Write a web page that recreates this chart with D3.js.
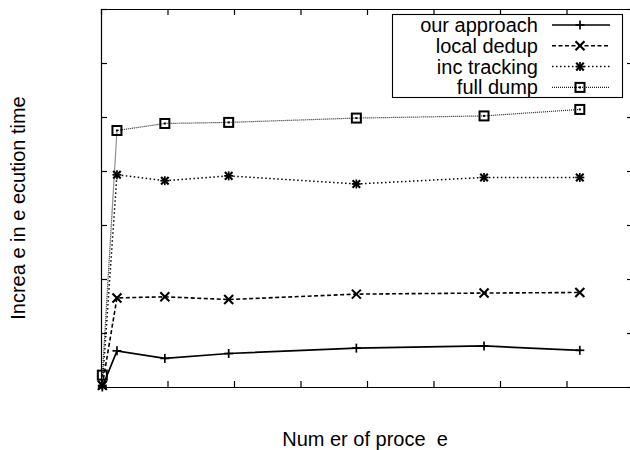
<!DOCTYPE html>
<html><head><meta charset="utf-8">
<script src="https://cdn.jsdelivr.net/npm/d3@7"></script>
<style>
body{margin:0;background:#fff;}
svg{display:block;font-family:"Liberation Sans",Arial,sans-serif;}
text{white-space:pre;}
</style></head><body>
<svg id="chart" width="630" height="450"></svg>
<script>
const processes = [1, 12, 48, 96, 192, 288, 360];
const ourApproach = [0, 6.7, 5.3, 6.2, 7.2, 7.6, 6.8];
const localDedup = [0.3, 16.5, 16.7, 16.2, 17.2, 17.4, 17.5];
const incTracking = [0.3, 39.3, 38.2, 39.1, 37.6, 38.8, 38.8];
const fullDump = [2.2, 47.5, 48.8, 49.0, 49.8, 50.2, 51.4];
const seriesNames = ["our approach", "local dedup", "inc tracking", "full dump"];
const xTicks = [0, 50, 100, 150, 200, 250, 300, 350, 400];
const yTicks = [0, 10, 20, 30, 40, 50, 60, 70];
const xLabel = "Num er of proce  e";
const yLabel = "Increa e in e ecution time";

const svg = d3.select("#chart");
const L = 101, R = 633, T = 9, B = 387;
const x = d3.scaleLinear().domain([0, 400]).range([L, R]);
const y = d3.scaleLinear().domain([0, 70]).range([B, T]);

const styles = [
  {values: ourApproach, dash: null, width: 1.7, color: "#000", marker: "plus"},
  {values: localDedup, dash: "4,2.5", width: 1.6, color: "#000", marker: "cross"},
  {values: incTracking, dash: "1.5,2.5", width: 1.5, color: "#000", marker: "star"},
  {values: fullDump, dash: "1,1", width: 1.2, color: "#222", marker: "square"}
];

function styleAxis(g){
  g.selectAll("path.domain").attr("stroke","#000").attr("stroke-width",1.2);
  g.selectAll(".tick line").attr("stroke","#000").attr("stroke-width",1.2);
  g.selectAll(".tick text").remove();
}
svg.append("g").attr("transform",`translate(0,${B})`)
  .call(d3.axisBottom(x).tickValues(xTicks).tickSizeInner(-6).tickSizeOuter(0).tickFormat(()=>"")).call(styleAxis);
svg.append("g").attr("transform",`translate(0,${T})`)
  .call(d3.axisTop(x).tickValues(xTicks).tickSizeInner(-6).tickSizeOuter(0).tickFormat(()=>"")).call(styleAxis);
svg.append("g").attr("transform",`translate(${L},0)`)
  .call(d3.axisLeft(y).tickValues(yTicks).tickSizeInner(-6).tickSizeOuter(0).tickFormat(()=>"")).call(styleAxis);
svg.append("g").attr("transform",`translate(${R},0)`)
  .call(d3.axisRight(y).tickValues(yTicks).tickSizeInner(-6).tickSizeOuter(0).tickFormat(()=>"")).call(styleAxis);

function drawMarker(g, type, cx, cy){
  const s = 4.5;
  if (type === "plus" || type === "star") {
    g.append("line").attr("x1",cx-s).attr("x2",cx+s).attr("y1",cy).attr("y2",cy).attr("stroke","#000").attr("stroke-width",1.7);
    g.append("line").attr("x1",cx).attr("x2",cx).attr("y1",cy-s).attr("y2",cy+s).attr("stroke","#000").attr("stroke-width",1.7);
  }
  if (type === "cross" || type === "star") {
    const t = type === "star" ? 3.8 : 4.5;
    g.append("line").attr("x1",cx-t).attr("x2",cx+t).attr("y1",cy-t).attr("y2",cy+t).attr("stroke","#000").attr("stroke-width",2.1);
    g.append("line").attr("x1",cx-t).attr("x2",cx+t).attr("y1",cy+t).attr("y2",cy-t).attr("stroke","#000").attr("stroke-width",2.1);
  }
  if (type === "square") {
    g.append("rect").attr("x",cx-4.5).attr("y",cy-4.5).attr("width",9).attr("height",9)
      .attr("fill","none").attr("stroke","#000").attr("stroke-width",2);
    g.append("rect").attr("x",cx-1).attr("y",cy-1).attr("width",2).attr("height",2).attr("fill","#000");
  }
}

const line = d3.line().x(d => x(d[0])).y(d => y(d[1]));
styles.forEach(st => {
  const pts = processes.map((p,i) => [p, st.values[i]]);
  const g = svg.append("g");
  g.append("path").attr("d", line(pts)).attr("fill","none")
    .attr("stroke", st.color).attr("stroke-width", st.width)
    .attr("stroke-dasharray", st.dash);
  pts.forEach(d => drawMarker(g, st.marker, x(d[0]), y(d[1])));
});

const lg = svg.append("g");
lg.append("rect").attr("x",392.5).attr("y",14.5).attr("width",230).attr("height",83)
  .attr("fill","#fff").attr("stroke","#000").attr("stroke-width",1.1);
const rowY = [25, 45.8, 66.6, 87.4];
styles.forEach((st, i) => {
  lg.append("text").attr("x",538).attr("y",rowY[i]+7).attr("text-anchor","end")
    .attr("font-size",20).attr("fill","#000").text(seriesNames[i]);
  lg.append("line").attr("x1",552).attr("x2",610).attr("y1",rowY[i]).attr("y2",rowY[i])
    .attr("stroke",st.color).attr("stroke-width",st.width).attr("stroke-dasharray",st.dash);
  drawMarker(lg, st.marker, 580, rowY[i]);
});

svg.append("text").attr("x",(L+R)/2 - 2).attr("y",446).attr("text-anchor","middle")
  .attr("font-size",20).attr("fill","#000").text(xLabel);
svg.append("text").attr("transform","translate(25,208) rotate(-90)").attr("text-anchor","middle")
  .attr("font-size",20).attr("fill","#000").text(yLabel);
</script>
</body></html>
